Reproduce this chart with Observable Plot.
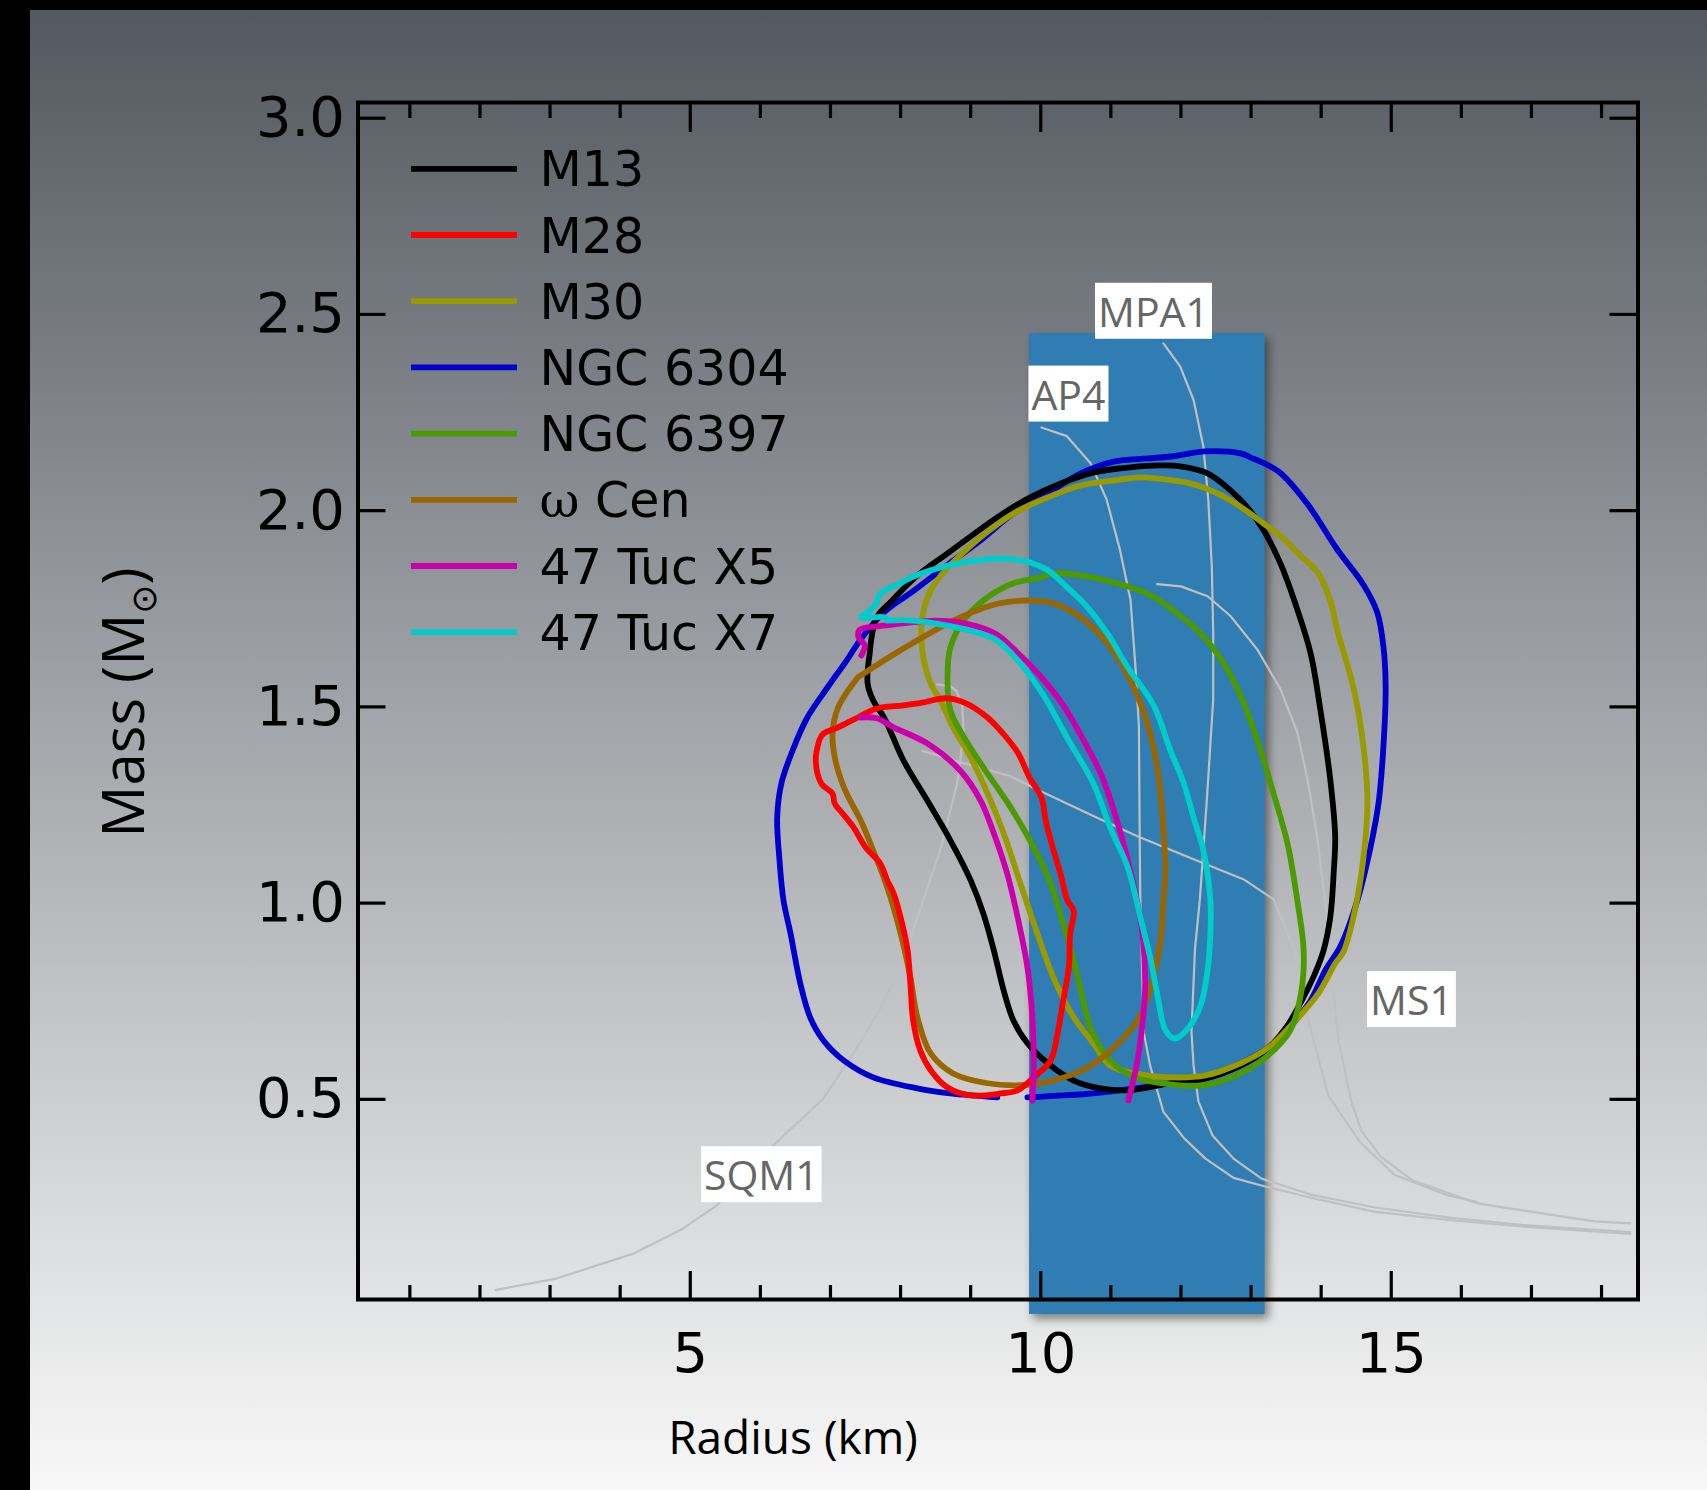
<!DOCTYPE html>
<html><head><meta charset="utf-8">
<script src="https://cdn.jsdelivr.net/npm/d3@7"></script>
<script src="https://cdn.jsdelivr.net/npm/@observablehq/plot@0.6"></script>
<style>
html,body{margin:0;padding:0;}
body{width:1707px;height:1490px;overflow:hidden;}
#wrap{position:relative;width:1707px;height:1490px;background:linear-gradient(to bottom,#52575f 0%,#f8f8f8 100%);}
#bt{position:absolute;left:0;top:0;width:1707px;height:10px;background:#000;}
#bl{position:absolute;left:0;top:0;width:30px;height:1490px;background:#000;}
#chart{position:absolute;left:0;top:0;}
.bandshadow{filter:drop-shadow(4px 5px 5px rgba(0,0,0,0.45));}
</style></head>
<body><div id="wrap"><div id="bt"></div><div id="bl"></div><div id="chart"></div></div>
<script>
// ---------- data ----------
const seriesNames  = ["M13","M28","M30","NGC 6304","NGC 6397","ω Cen","47 Tuc X5","47 Tuc X7"];
const seriesColors = ["#000000","#ff0000","#999900","#0000cc","#4c9900","#996600","#cc00aa","#00cccc"];

const xMajorTicks = [5,10,15];
const xMinorTicks = [1,2,3,4,6,7,8,9,11,12,13,14,16,17,18];
const yTicks = [0.5,1.0,1.5,2.0,2.5,3.0];
const xDomain = [0.26,18.52];
const yDomain = [-0.01,3.04];

// radius band (km, Msun)
const band = [{R1:9.84, R2:13.2, M1:-0.048, M2:2.451}];

// contours: [radius km, mass Msun]
const NGC6304 = [[9.81,0.505],[10.75,0.515],[11.35,0.528],[11.85,0.541],[12.35,0.556],[12.85,0.592],[13.25,0.632],[13.60,0.694],[13.85,0.752],[14.06,0.829],[14.28,0.892],[14.52,1.009],[14.70,1.139],[14.82,1.257],[14.89,1.404],[14.92,1.550],[14.89,1.651],[14.80,1.741],[14.60,1.812],[14.23,1.901],[13.80,2.018],[13.39,2.100],[12.99,2.136],[12.85,2.146],[12.35,2.151],[11.86,2.138],[11.52,2.133],[11.04,2.125],[10.57,2.095],[10.10,2.044],[9.61,1.993],[9.14,1.924],[8.67,1.862],[8.18,1.795],[7.77,1.742],[7.44,1.674],[7.23,1.618],[6.96,1.550],[6.67,1.473],[6.46,1.389],[6.30,1.305],[6.24,1.218],[6.27,1.116],[6.33,1.007],[6.43,0.923],[6.57,0.795],[6.71,0.709],[6.90,0.650],[7.19,0.599],[7.61,0.556],[8.24,0.528],[8.71,0.515],[9.38,0.505]];
const M13 = [[7.56,1.636],[7.66,1.728],[7.88,1.771],[8.21,1.830],[8.70,1.895],[9.38,1.983],[9.85,2.034],[10.32,2.072],[10.75,2.097],[11.14,2.108],[11.61,2.115],[11.99,2.113],[12.38,2.095],[12.71,2.051],[12.95,2.008],[13.18,1.950],[13.42,1.865],[13.63,1.764],[13.85,1.636],[13.99,1.491],[14.13,1.315],[14.20,1.170],[14.18,1.081],[14.13,0.964],[14.03,0.877],[13.90,0.816],[13.70,0.744],[13.50,0.683],[13.21,0.625],[12.85,0.586],[12.35,0.553],[11.85,0.541],[11.24,0.523],[10.85,0.528],[10.47,0.548],[10.10,0.592],[9.81,0.643],[9.61,0.701],[9.47,0.778],[9.33,0.880],[9.18,0.974],[9.00,1.058],[8.71,1.160],[8.38,1.262],[8.04,1.364],[7.77,1.471],[7.61,1.516],[7.53,1.560],[7.56,1.636]];
const M30 = [[8.67,1.855],[9.14,1.932],[9.61,1.993],[10.10,2.034],[10.57,2.064],[11.04,2.077],[11.42,2.085],[11.89,2.077],[12.24,2.064],[12.71,2.026],[13.18,1.967],[13.46,1.929],[13.70,1.886],[13.95,1.843],[14.13,1.771],[14.23,1.695],[14.46,1.550],[14.60,1.404],[14.66,1.257],[14.60,1.111],[14.46,0.964],[14.32,0.877],[14.20,0.846],[13.96,0.770],[13.60,0.694],[13.25,0.632],[12.85,0.592],[12.35,0.561],[11.85,0.556],[11.35,0.566],[10.99,0.586],[10.75,0.643],[10.47,0.709],[10.18,0.811],[9.95,0.923],[9.71,1.050],[9.47,1.178],[9.24,1.280],[9.00,1.371],[8.75,1.448],[8.57,1.516],[8.43,1.560],[8.31,1.644],[8.31,1.728],[8.43,1.797],[8.67,1.855]];
const NGC6397 = [[8.67,1.575],[8.71,1.651],[8.90,1.720],[9.24,1.779],[9.61,1.815],[10.00,1.830],[10.18,1.840],[10.57,1.835],[11.04,1.817],[11.52,1.789],[11.89,1.746],[12.28,1.687],[12.61,1.611],[12.85,1.529],[13.09,1.415],[13.32,1.280],[13.52,1.152],[13.66,1.007],[13.75,0.880],[13.72,0.778],[13.56,0.676],[13.21,0.607],[12.85,0.566],[12.35,0.536],[11.85,0.538],[11.35,0.556],[10.99,0.599],[10.71,0.683],[10.57,0.778],[10.47,0.854],[10.32,0.948],[10.14,1.050],[9.90,1.142],[9.57,1.244],[9.18,1.346],[8.93,1.415],[8.71,1.491],[8.67,1.575]];
const OmegaCen = [[7.39,1.575],[7.83,1.626],[8.31,1.677],[8.85,1.728],[9.41,1.764],[9.85,1.771],[10.18,1.764],[10.57,1.728],[10.95,1.662],[11.28,1.567],[11.52,1.458],[11.68,1.325],[11.75,1.185],[11.78,1.083],[11.75,1.007],[11.71,0.905],[11.57,0.785],[11.38,0.701],[11.04,0.632],[10.67,0.581],[10.18,0.548],[9.71,0.536],[9.24,0.541],[8.75,0.566],[8.43,0.617],[8.24,0.709],[8.14,0.811],[8.00,0.923],[7.81,1.040],[7.61,1.134],[7.43,1.211],[7.21,1.287],[7.07,1.364],[7.03,1.432],[7.11,1.499],[7.39,1.575]];
const M28 = [[6.84,1.415],[6.90,1.432],[7.11,1.448],[7.39,1.473],[7.66,1.496],[8.04,1.504],[8.31,1.511],[8.64,1.522],[8.91,1.511],[9.24,1.473],[9.51,1.422],[9.68,1.381],[9.84,1.320],[10.01,1.269],[10.07,1.211],[10.17,1.142],[10.28,1.076],[10.38,1.007],[10.47,0.981],[10.42,0.923],[10.40,0.836],[10.32,0.752],[10.24,0.668],[10.14,0.599],[9.90,0.556],[9.67,0.523],[9.43,0.515],[9.00,0.510],[8.67,0.530],[8.43,0.574],[8.28,0.625],[8.18,0.701],[8.14,0.795],[8.10,0.880],[8.00,0.964],[7.90,1.025],[7.81,1.058],[7.71,1.101],[7.50,1.142],[7.33,1.193],[7.17,1.229],[7.06,1.254],[7.03,1.279],[6.87,1.305],[6.79,1.364],[6.84,1.415]];
const Tuc47X5a = [[7.44,1.631],[7.49,1.657],[7.40,1.677],[7.41,1.695],[7.51,1.702],[7.66,1.705],[8.04,1.713],[8.48,1.720],[8.91,1.713],[9.35,1.687],[9.68,1.636],[10.01,1.575],[10.34,1.499],[10.61,1.415],[10.88,1.320],[11.14,1.178],[11.32,1.050],[11.45,0.923],[11.49,0.795],[11.46,0.709],[11.38,0.599],[11.25,0.497]];
const Tuc47X5b = [[7.43,1.473],[7.66,1.471],[7.90,1.448],[8.38,1.407],[8.85,1.338],[9.14,1.262],[9.33,1.178],[9.52,1.076],[9.67,0.964],[9.81,0.836],[9.88,0.709],[9.90,0.581],[9.88,0.497]];
const Tuc47X7 = [[7.81,1.720],[8.18,1.720],[8.67,1.707],[9.14,1.687],[9.38,1.669],[9.71,1.611],[10.04,1.529],[10.38,1.420],[10.75,1.305],[10.99,1.193],[11.24,1.091],[11.42,0.964],[11.57,0.854],[11.66,0.770],[11.78,0.676],[11.91,0.655],[12.11,0.683],[12.28,0.739],[12.38,0.829],[12.42,0.923],[12.42,1.007],[12.32,1.134],[12.18,1.218],[12.04,1.305],[11.85,1.389],[11.61,1.504],[11.24,1.601],[10.95,1.687],[10.67,1.753],[10.38,1.804],[10.10,1.848],[9.85,1.868],[9.38,1.878],[8.90,1.868],[8.43,1.848],[8.16,1.830],[7.93,1.809],[7.77,1.797],[7.68,1.779],[7.66,1.764],[7.56,1.746],[7.44,1.728],[7.60,1.728],[7.77,1.728],[7.81,1.720]];

// equation-of-state curves (grey)
const AP4  = [[10.01,2.212],[10.37,2.19],[10.71,2.121],[10.94,2.028],[11.13,1.90],[11.28,1.773],[11.35,1.604],[11.40,1.45],[11.41,1.2],[11.42,1.01],[11.45,0.80],[11.47,0.67],[11.56,0.586],[11.75,0.468],[12.05,0.40],[12.35,0.349],[12.75,0.30],[13.2,0.278],[13.84,0.25],[14.75,0.214],[15.85,0.192],[16.86,0.176],[18.41,0.157]];
const MPA1 = [[11.75,2.426],[11.99,2.367],[12.18,2.282],[12.32,2.163],[12.39,2.028],[12.44,1.858],[12.46,1.689],[12.46,1.519],[12.37,1.265],[12.27,1.01],[12.2,0.883],[12.15,0.672],[12.18,0.586],[12.25,0.494],[12.45,0.408],[12.75,0.349],[13.15,0.298],[13.84,0.258],[14.75,0.225],[15.85,0.198],[16.86,0.18],[18.41,0.162]];
const MS1  = [[11.66,1.813],[12.0,1.807],[12.38,1.782],[12.71,1.731],[13.09,1.646],[13.42,1.545],[13.66,1.435],[13.80,1.32],[13.94,1.173],[14.08,0.968],[14.15,0.80],[14.25,0.65],[14.43,0.494],[14.57,0.421],[14.85,0.354],[15.30,0.294],[16.23,0.235],[17.90,0.189],[18.41,0.184]];
const SQM1 = [[2.22,0.014],[3.10,0.044],[4.19,0.107],[4.90,0.171],[5.38,0.23],[6.14,0.375],[6.90,0.502],[7.43,0.646],[7.71,0.731],[7.90,0.799],[8.14,0.909],[8.33,1.01],[8.57,1.137],[8.81,1.307],[8.90,1.435],[8.88,1.50],[8.80,1.54],[8.71,1.553],[8.52,1.557]];
const EOSx = [[8.31,1.388],[8.85,1.359],[9.56,1.324],[9.94,1.29],[10.75,1.222],[11.37,1.171],[12.18,1.112],[12.89,1.061],[13.32,1.01],[13.62,0.88],[13.80,0.714],[14.10,0.51],[14.55,0.392],[15.05,0.307],[15.80,0.256],[16.23,0.238]];

const eosLabels = [
  {text:"AP4",  R:10.395, M:2.291},
  {text:"MPA1", R:11.608, M:2.502},
  {text:"MS1",  R:15.288, M:0.748},
  {text:"SQM1", R:6.013,  M:0.302}
];

const xLabel = "Radius (km)";
const yLabelParts = ["Mass (M", "⊙", ")"];

// ---------- build tables ----------
const contourParts = [
  ["NGC 6304","NGC 6304",NGC6304],["M13","M13",M13],["M30","M30",M30],["NGC 6397","NGC 6397",NGC6397],
  ["ω Cen","ω Cen",OmegaCen],["M28","M28",M28],["47 Tuc X5","X5a",Tuc47X5a],["47 Tuc X5","X5b",Tuc47X5b],["47 Tuc X7","X7",Tuc47X7]
];
const contourRows = contourParts.flatMap(([name, part, pts]) => pts.map(([R, M]) => ({name, part, R, M})));
const eosParts = [["AP4",AP4],["MPA1",MPA1],["MS1",MS1],["SQM1",SQM1],["other",EOSx]];
const eosRows = eosParts.flatMap(([name, pts]) => pts.map(([R, M]) => ({name, R, M})));

// ---------- layout ----------
const W = 1707, H = 1490;
const mL = 357.5, mR = 69.5, mT = 102, mB = 191;
const innerW = W - mL - mR, innerH = H - mT - mB;
const lineW = 5.8;

function tag(cls) {
  return (index, scales, values, dims, context, next) => {
    const g = next(index, scales, values, dims, context);
    if (g) g.classList.add(cls);
    return g;
  };
}

function legendMark(index, scales, values, dims) {
  const g = d3.create("svg:g").attr("class", "legend").attr("text-anchor", "start");
  seriesNames.forEach((name, i) => {
    const y = dims.marginTop + 66.8 + i * 66.2;
    g.append("line")
      .attr("x1", dims.marginLeft + 53.5).attr("x2", dims.marginLeft + 159.5)
      .attr("y1", y).attr("y2", y)
      .attr("stroke", seriesColors[i]).attr("stroke-width", lineW);
    const t = g.append("text")
      .attr("x", dims.marginLeft + 182).attr("y", y).attr("dy", "0.36em")
      .attr("text-anchor", "start")
      .attr("font-family", "DejaVu Sans").attr("font-size", 49).attr("fill", "#000");
    if (name.startsWith("ω")) {
      t.append("tspan").attr("font-family", "DejaVu Serif").text("ω");
      t.append("tspan").text(name.slice(1));
    } else t.text(name);
  });
  return g.node();
}

const chart = Plot.plot({
  width: W, height: H,
  marginLeft: mL, marginRight: mR, marginTop: mT, marginBottom: mB,
  x: {domain: xDomain},
  y: {domain: yDomain},
  color: {domain: seriesNames, range: seriesColors},
  style: {background: "transparent", color: "black", fontFamily: "DejaVu Sans", overflow: "visible"},
  marks: [
    Plot.rect(band, {x1: "R1", x2: "R2", y1: "M1", y2: "M2", fill: "#2f7db3", render: tag("bandshadow")}),
    Plot.line(eosRows, {x: "R", y: "M", z: "name", stroke: "#c0c0c0", strokeWidth: 2.2}),
    Plot.text(eosLabels, {x: "R", y: "M", text: "text", fill: "#666666", fontSize: 41, fontFamily: "Open Sans",
      textAnchor: "middle", lineAnchor: "middle", render: tag("eoslabels")}),
    Plot.line(contourRows, {x: "R", y: "M", z: "part", stroke: "name", strokeWidth: lineW,
      strokeLinejoin: "round", strokeLinecap: "round", curve: "catmull-rom"}),
    // ticks (inside)
    Plot.tickX(xMajorTicks, {x: d => d, stroke: "black", strokeWidth: 3.2, insetTop: innerH - 28}),
    Plot.tickX(xMinorTicks, {x: d => d, stroke: "black", strokeWidth: 3.2, insetTop: innerH - 14}),
    Plot.tickX(xMajorTicks, {x: d => d, stroke: "black", strokeWidth: 3.2, insetBottom: innerH - 30}),
    Plot.tickX(xMinorTicks, {x: d => d, stroke: "black", strokeWidth: 3.2, insetBottom: innerH - 16}),
    Plot.tickY(yTicks, {y: d => d, stroke: "black", strokeWidth: 3.2, insetRight: innerW - 28}),
    Plot.tickY(yTicks, {y: d => d, stroke: "black", strokeWidth: 3.2, insetLeft: innerW - 28}),
    Plot.frame({stroke: "black", strokeWidth: 4}),
    Plot.axisX({ticks: xMajorTicks, tickSize: 0, tickPadding: 33, fontSize: 56, label: null, tickFormat: d => String(d)}),
    Plot.axisY({ticks: yTicks, tickSize: 0, tickPadding: 13, fontSize: 56, label: null, tickFormat: d3.format(".1f")}),
    Plot.text([xLabel], {frameAnchor: "bottom-left", dx: 435, dy: 140, text: d => d, fontSize: 46,
      fontFamily: "Open Sans", textAnchor: "middle", lineAnchor: "middle", fill: "black"}),
    Plot.text([yLabelParts.join("")], {frameAnchor: "left", dx: -232.8, dy: 1.5, rotate: -90, text: d => d, fontSize: 58,
      fontFamily: "Open Sans", textAnchor: "middle", lineAnchor: "middle", fill: "black", render: tag("ylabel")}),
    legendMark
  ]
});

document.getElementById("chart").append(chart);

const ns = "http://www.w3.org/2000/svg";
const labelNames = eosLabels.map(d => d.text);
const yLabelFull = yLabelParts.join("");

// band shadow fallback
if (!chart.querySelector(".bandshadow")) {
  const g = chart.querySelector('g[aria-label="rect"]');
  if (g) g.classList.add("bandshadow");
}

// white boxes behind EOS labels
let labelTexts = Array.from(chart.querySelectorAll(".eoslabels text"));
if (!labelTexts.length) labelTexts = Array.from(chart.querySelectorAll("text")).filter(t => labelNames.includes(t.textContent));
labelTexts.forEach(t => {
  const b = t.getBBox();
  const r = document.createElementNS(ns, "rect");
  r.setAttribute("x", b.x - 3); r.setAttribute("y", b.y);
  r.setAttribute("width", b.width + 6); r.setAttribute("height", b.height);
  r.setAttribute("fill", "white");
  if (t.getAttribute("transform")) r.setAttribute("transform", t.getAttribute("transform"));
  t.parentNode.insertBefore(r, t);
});

// subscript sun symbol in y label
let yl = chart.querySelector(".ylabel text");
if (!yl) yl = Array.from(chart.querySelectorAll("text")).find(t => t.textContent === yLabelFull);
if (yl) {
  yl.textContent = "";
  const a = document.createElementNS(ns, "tspan"); a.textContent = yLabelParts[0];
  const b = document.createElementNS(ns, "tspan"); b.textContent = yLabelParts[1];
  b.setAttribute("font-size", "0.6em"); b.setAttribute("dy", "12"); b.setAttribute("font-family", "DejaVu Sans");
  const c = document.createElementNS(ns, "tspan"); c.textContent = yLabelParts[2]; c.setAttribute("dy", "-12");
  yl.append(a, b, c);
}
</script></body></html>
